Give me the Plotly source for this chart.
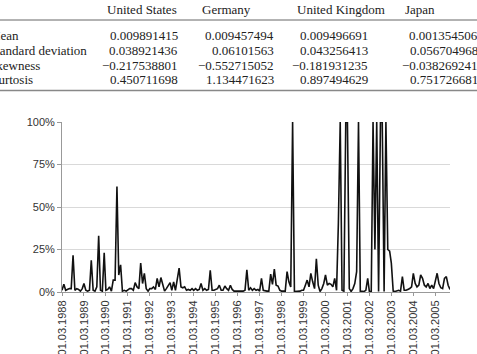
import plotly.graph_objects as go
import pandas as pd

# ---------------- data ----------------
start_month = "1988-03-01"
# monthly values in percent, one list per year (March .. February)
y1988 = [1, 4.5, 1, 1.5, 2, 2, 21.6, 1, 2, 1.5, 0.5, 2]
y1989 = [5, 1, 0.5, 1, 18.7, 1, 0.5, 3, 33, 1, 0.5, 23]
y1990 = [1, 1.5, 3, 0.5, 7, 7, 62, 10, 16, 0.5, 1, 0.5]
y1991 = [1, 2, 2, 1, 5.5, 3, 2, 17, 5, 11, 2, 0.5]
y1992 = [2, 2, 3, 1.5, 8, 3, 8.5, 4, 0.5, 2, 4, 5.5]
y1993 = [1, 6, 1, 7, 14, 3, 2.5, 3, 1, 1.5, 1, 2]
y1994 = [1, 2, 1, 1.5, 5, 1, 2, 1, 1.5, 12.8, 1, 1]
y1995 = [1.5, 2, 4, 1, 1, 3.5, 2, 1, 4, 1.5, 0.5, 0.5]
y1996 = [0.3, 0.5, 0.2, 0.5, 1, 13, 1, 2.5, 1, 2, 1, 1.5]
y1997 = [0.5, 8, 1, 0.5, 0.5, 0.5, 10.5, 4.5, 13.5, 4, 3.5, 1]
y1998 = [0.5, 0.5, 0.5, 12, 6, 3, 100, 0.3, 0.3, 0.3, 0.5, 1]
y1999 = [1, 4, 7, 3, 11, 6, 2, 19.5, 4, 0.3, 2, 5]
y2000 = [10, 4, 5, 4.5, 3, 8, 1, 40, 100, 1, 0.5, 100]
y2001 = [100, 2, 0.3, 2, 5, 12, 100, 0.5, 0.3, 0.3, 1, 8]
y2002 = [0.3, 0.3, 100, 25, 100, 0.3, 100, 100, 0.3, 100, 25, 24]
y2003 = [17, 0.5, 0.3, 0.5, 1, 0.5, 9, 1, 1, 1.5, 2, 3]
y2004 = [11, 5, 3, 4, 10, 8, 4, 3, 5, 2, 4, 2]
y2005 = [7, 11, 5, 2.5, 2, 8, 9, 4, 1.5]

values_pct = (y1988 + y1989 + y1990 + y1991 + y1992 + y1993 + y1994 + y1995 +
              y1996 + y1997 + y1998 + y1999 + y2000 + y2001 + y2002 + y2003 +
              y2004 + y2005)

tick_years = list(range(1988, 2006))
tick_labels = [f"01.03.{y}" for y in tick_years]
y_ticks = [0, 0.25, 0.5, 0.75, 1.0]

table_columns = ["United States", "Germany", "United Kingdom", "Japan"]
row_labels = ["Mean", "Standard deviation", "Skewness", "Kurtosis"]
col_us = ["0.009891415", "0.038921436", "\u22120.217538801", "0.450711698"]
col_de = ["0.009457494", "0.06101563", "\u22120.552715052", "1.134471623"]
col_uk = ["0.009496691", "0.043256413", "\u22120.181931235", "0.897494629"]
col_jp = ["0.001354506", "0.056704968", "\u22120.038269241", "0.751726681"]

# ---------------- layout geometry ----------------
W, H = 477, 354
L, R, T, B = 62, 27, 122, 62
PW, PH = W - L - R, H - T - B


def px_x(px):
    return (px - L) / PW


def px_y(py):
    return (H - B - py) / PH


dates = pd.date_range(start_month, periods=len(values_pct), freq="MS")
yvals = [v / 100.0 for v in values_pct]

fig = go.Figure()
fig.add_trace(go.Scatter(
    x=dates, y=yvals, mode="lines",
    line=dict(color="#111111", width=1.6),
    hoverinfo="skip", showlegend=False,
))

sans = "Liberation Sans, Arial, sans-serif"
serif = "Liberation Serif, Times New Roman, serif"

fig.update_layout(
    width=W, height=H,
    margin=dict(l=L, r=R, t=T, b=B, pad=0),
    paper_bgcolor="white", plot_bgcolor="white",
    font=dict(family=sans, size=11, color="#333333"),
    showlegend=False,
    xaxis=dict(
        type="date",
        range=[dates[0], dates[-1]],
        tickmode="array",
        tickvals=[pd.Timestamp(f"{y}-03-01") for y in tick_years],
        ticktext=tick_labels,
        tickangle=-90,
        ticks="outside", ticklen=3, tickcolor="#999999", tickwidth=1,
        showline=True, linecolor="#999999", linewidth=1,
        showgrid=False, zeroline=False, automargin=False,
        tickfont=dict(family=sans, size=11, color="#333333"),
    ),
    yaxis=dict(
        range=[0, 1],
        tickmode="array", tickvals=y_ticks,
        tickformat=".0%",
        ticks="outside", ticklen=4, tickcolor="#999999", tickwidth=1,
        showline=True, linecolor="#999999", linewidth=1,
        showgrid=True, gridcolor="#d9d9d9", gridwidth=1,
        zeroline=False, automargin=False,
        tickfont=dict(family=sans, size=11, color="#333333"),
    ),
)

# ---------------- table on top ----------------
ann = []
font_t = dict(family=serif, size=13, color="#222222")
header_left = [107, 202, 297, 405]
value_right = [178, 274, 368, 477.5]
row_y = [35.5, 50.5, 65, 79.5]

for name, xl in zip(table_columns, header_left):
    ann.append(dict(x=px_x(xl), y=px_y(9.5), xref="paper", yref="paper",
                    text=name, showarrow=False, xanchor="left", yanchor="middle",
                    font=font_t, borderpad=0, borderwidth=0))

for lbl, yy in zip(row_labels, row_y):
    ann.append(dict(x=px_x(-11), y=px_y(yy), xref="paper", yref="paper",
                    text=lbl, showarrow=False, xanchor="left", yanchor="middle",
                    font=font_t, borderpad=0, borderwidth=0))

for col, xr in zip([col_us, col_de, col_uk, col_jp], value_right):
    for val, yy in zip(col, row_y):
        ann.append(dict(x=px_x(xr), y=px_y(yy), xref="paper", yref="paper",
                        text=val, showarrow=False, xanchor="right", yanchor="middle",
                        font=font_t, borderpad=0, borderwidth=0))

fig.update_layout(annotations=ann)

fig.add_shape(type="line", xref="paper", yref="paper",
              x0=px_x(-2), x1=px_x(480), y0=px_y(20), y1=px_y(20),
              line=dict(color="#666666", width=1))
fig.add_shape(type="line", xref="paper", yref="paper",
              x0=px_x(-2), x1=px_x(480), y0=px_y(90.5), y1=px_y(90.5),
              line=dict(color="#888888", width=1.6))

fig.write_html("out.html")
